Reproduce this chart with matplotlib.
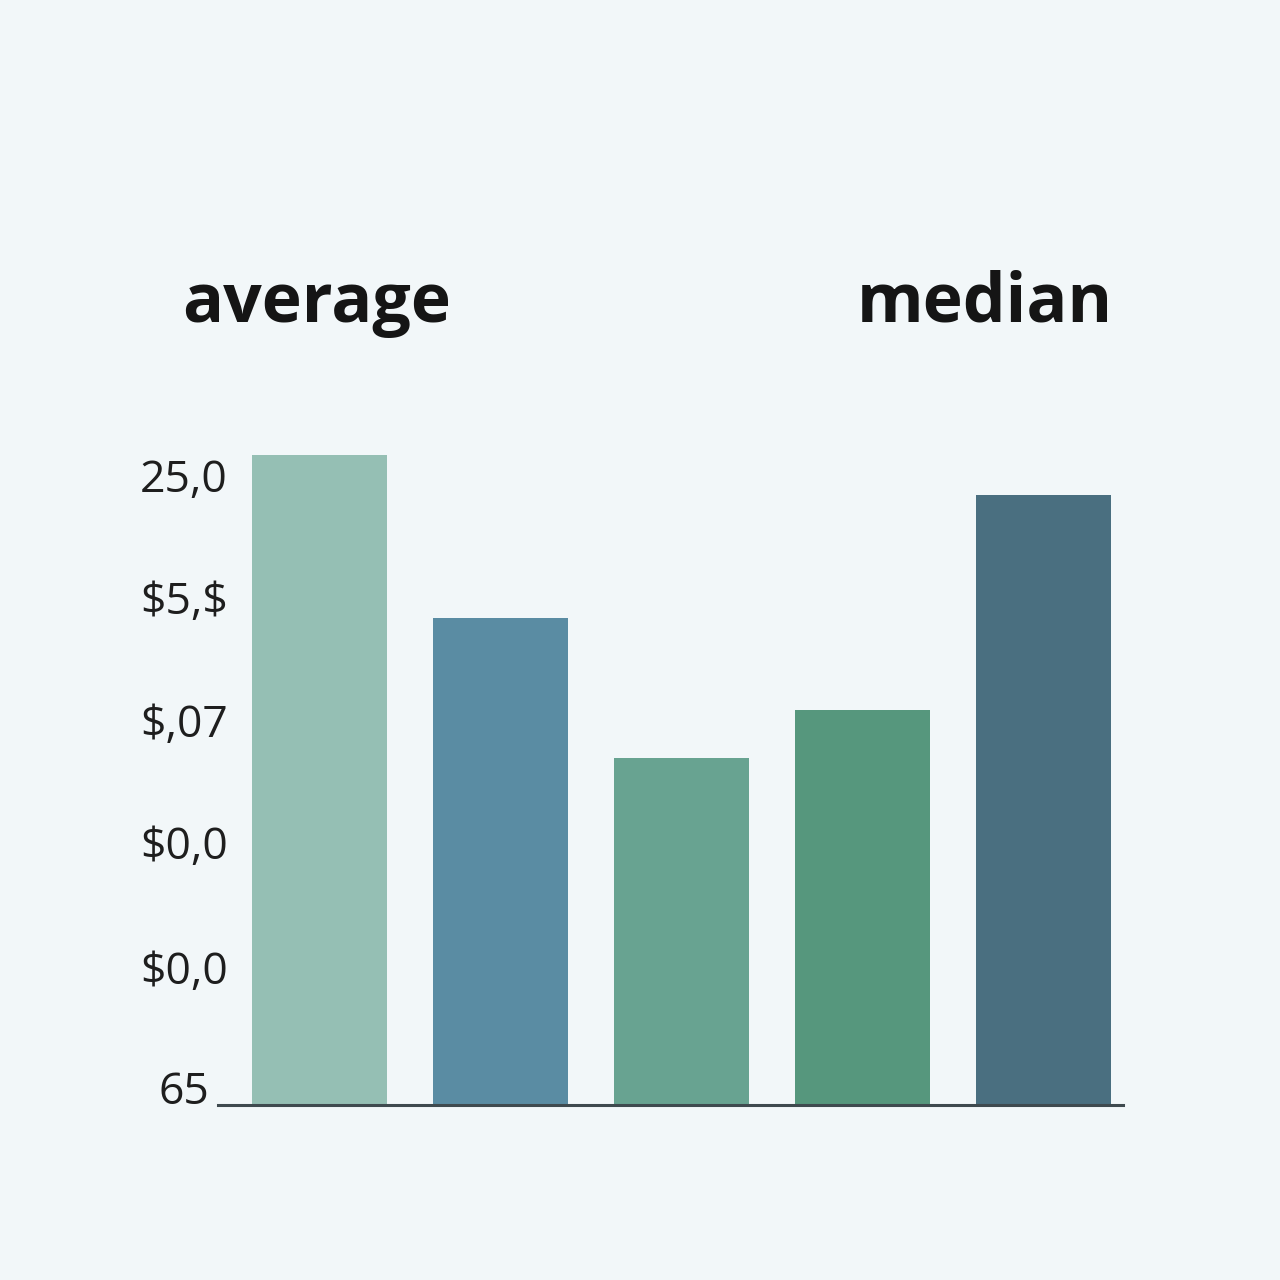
import matplotlib
matplotlib.use("Agg")
from matplotlib import pyplot as plt

# data
groups = ["avg_1", "avg_2", "mid", "med_1", "med_2"]
values = [26.0, 19.5, 13.9, 15.8, 24.4]
colors = ["#95bfb4", "#5a8ca3", "#68a391", "#56977d", "#4a6f80"]
tick_pos = [25.2, 20.3, 15.4, 10.5, 5.5, 0.7]
tick_labels = ["25,0", r"\$5,\$", r"\$,07", r"\$0,0", r"\$0,0", "65"]
headers = ["average", "median"]

bg = "#f2f7f9"
plt.rcParams["font.family"] = ["Open Sans", "DejaVu Sans"]

fig = plt.figure(figsize=(12.8, 12.8), dpi=100, facecolor=bg)
ax = fig.add_axes([0.1703, 0.1367, 0.707, 0.5508], facecolor=bg)

x = list(range(len(values)))
ax.bar(x, values, width=0.746, color=colors, zorder=2)
ax.set_xlim(-0.561, 4.439)
ax.set_ylim(0, 28.2)

for s in ["top", "right", "left"]:
    ax.spines[s].set_visible(False)
ax.spines["bottom"].set_color("#3f4a4f")
ax.spines["bottom"].set_linewidth(2.2)
ax.spines["bottom"].set_zorder(3)

ax.set_xticks([])
ax.set_yticks(tick_pos)
ax.set_yticklabels(tick_labels, fontsize=32, color="#1e1e1e")
ax.tick_params(axis="y", length=0, pad=24.5)
for lab in ax.get_yticklabels():
    lab.set_horizontalalignment("center")

fig.text(0.247, 1 - 322 / 1280, headers[0], fontsize=49, fontweight="bold",
         color="#151515", ha="center", va="baseline")
fig.text(0.769, 1 - 322 / 1280, headers[1], fontsize=49, fontweight="bold",
         color="#151515", ha="center", va="baseline")

fig.savefig("out.png", dpi=100, facecolor=bg)
